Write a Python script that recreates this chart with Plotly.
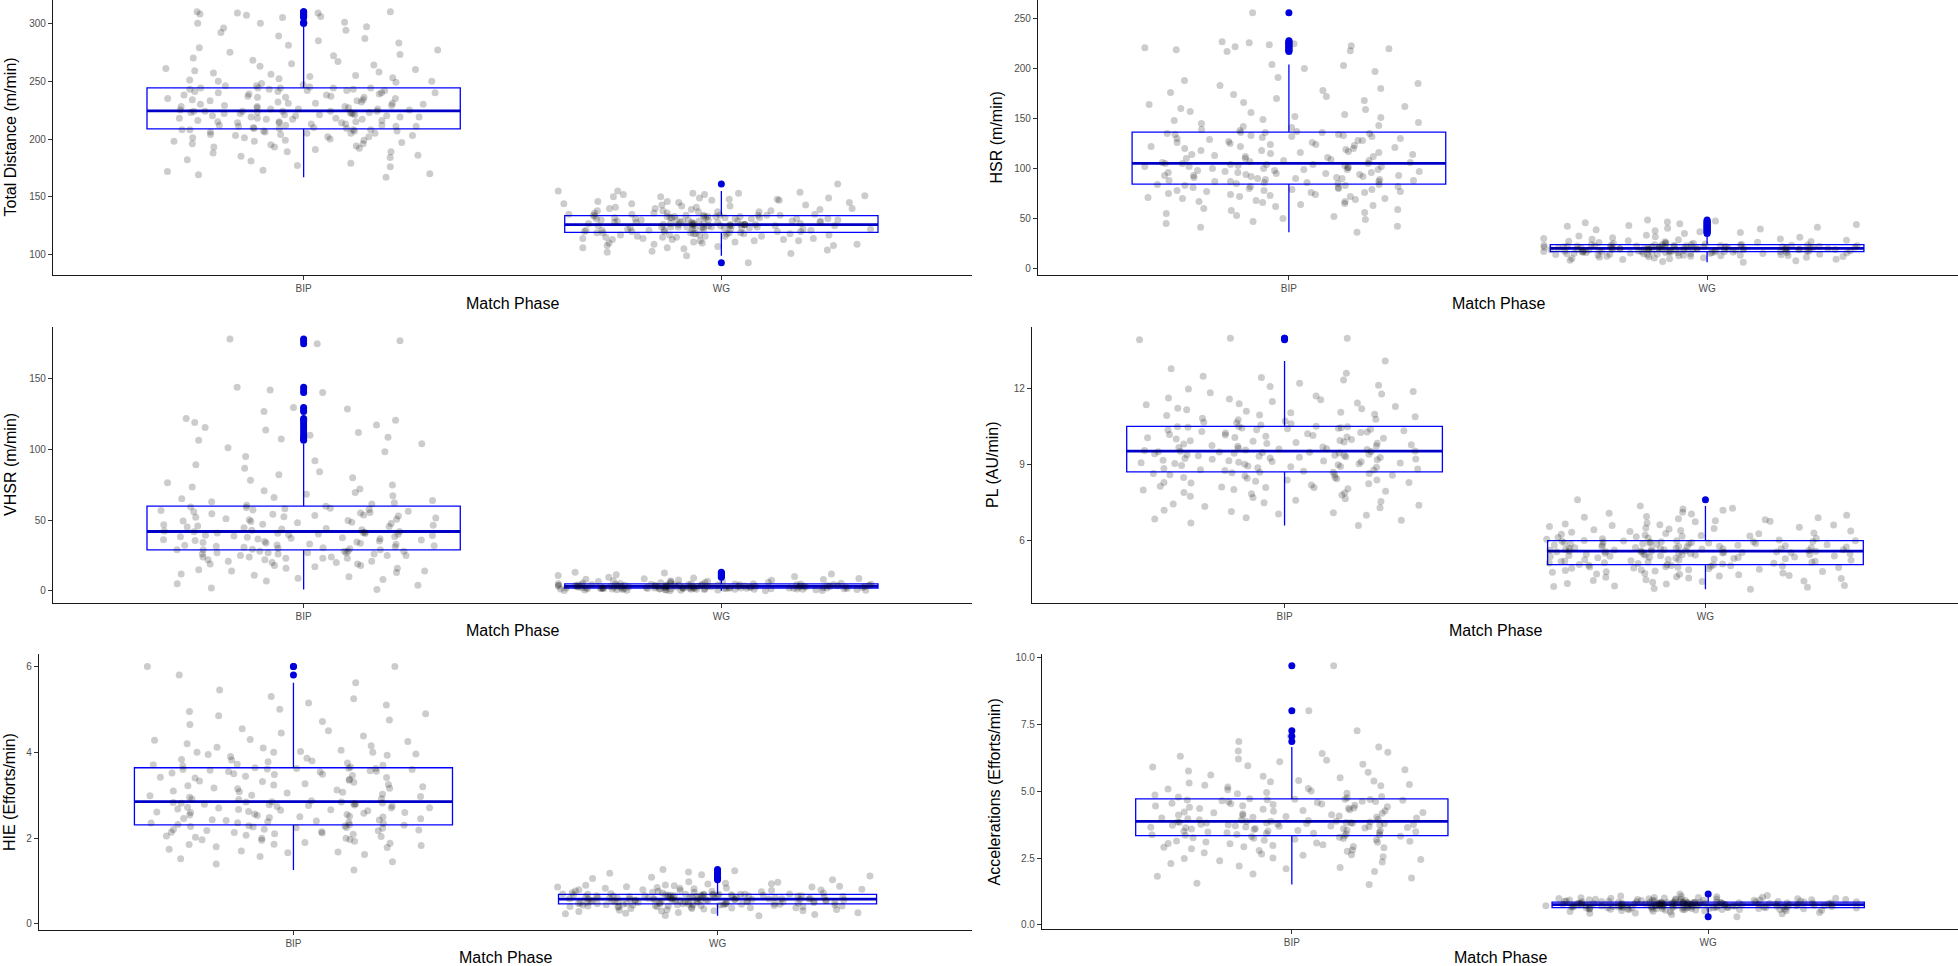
import plotly.graph_objects as go

CATS = ["BIP", "WG"]

# ---------------- data ----------------
TD_BIP = [167, 169, 170, 172, 173, 176, 177, 179, 181, 182, 184, 185, 186, 188, 189, 189, 191, 192, 193, 193,
          194, 195, 196, 196, 197, 198, 198, 199, 199, 200, 201, 201, 202, 202, 203, 203, 204, 204, 205, 205,
          205, 206, 206, 207, 207, 207, 208, 208, 208, 208,
          209, 209, 209, 210, 210, 211, 211, 211, 212, 212, 212, 213, 213, 214, 214, 214, 215, 215, 215, 216,
          216, 217, 217, 217, 218, 218, 218, 219, 219, 219, 220, 220, 220, 221, 221, 221, 222, 222, 222, 222,
          223, 223, 223, 223, 224, 224, 224, 224, 224, 224,
          225, 225, 226, 226, 226, 227, 227, 228, 228, 228, 229, 229, 230, 230, 231, 231, 231, 232, 232, 233,
          233, 234, 234, 235, 235, 236, 236, 236, 237, 237, 238, 238, 239, 239, 240, 240, 240, 241, 241, 242,
          242, 242, 243, 243, 243, 244, 244, 244, 244, 244,
          245, 246, 246, 247, 248, 249, 250, 250, 251, 252, 253, 254, 255, 256, 257, 258, 259, 260, 261, 263,
          264, 265, 267, 268, 270, 272, 273, 275, 277, 279, 281, 283, 285, 287, 289, 292, 294, 296, 297, 300,
          300, 301, 305, 306, 307, 308, 309, 309, 310, 310]
TD_WG = [93, 99, 101, 102, 103, 104, 105, 106, 106, 107, 108, 108, 109, 109, 110, 110, 111, 111, 112, 112,
         112, 113, 113, 113, 114, 114, 114, 115, 115, 115, 116, 116, 116, 116, 117, 117, 117, 117, 118, 118,
         118, 118, 118, 119, 119, 119, 119, 119,
         120, 120, 120, 120, 120, 121, 121, 121, 121, 121, 122, 122, 122, 122, 122, 122, 123, 123, 123, 123,
         123, 123, 124, 124, 124, 124, 124, 124, 124, 125, 125, 125, 125, 125, 125, 125, 125, 126, 126, 126,
         126, 126, 126, 126, 126, 126,
         127, 127, 127, 127, 127, 127, 128, 128, 128, 128, 128, 128, 129, 129, 129, 129, 129, 129, 130, 130,
         130, 130, 130, 130, 131, 131, 131, 131, 131, 131, 132, 132, 132, 132, 132, 132, 133, 133, 133, 133,
         133, 133, 133, 134, 134, 134, 134, 134, 134, 134,
         135, 135, 135, 136, 136, 136, 137, 137, 137, 138, 138, 138, 139, 139, 140, 140, 140, 141, 141, 142,
         142, 143, 143, 144, 144, 145, 145, 146, 146, 147, 147, 148, 148, 149, 149, 150, 150, 151, 152, 152,
         153, 153, 154, 155, 155, 161]

HSR_BIP = [36, 41, 42, 45, 47, 49, 50, 52, 53, 55, 56, 58, 59, 60, 62, 63, 64, 65, 66, 67, 67, 68, 69, 70, 70,
           71, 72, 72, 73, 74, 74, 75, 76, 76, 77, 77, 78, 78, 79, 79, 80, 80, 81, 81, 82, 82, 83, 83, 84, 84,
           85, 85, 86, 86, 87, 87, 87, 88, 88, 89, 89, 90, 90, 90, 91, 91, 92, 92, 93, 93, 93, 94, 94, 95, 95,
           96, 96, 96, 97, 97, 98, 98, 99, 99, 99, 100, 100, 101, 101, 102, 102, 102, 103, 103, 104, 104, 104,
           105, 105, 105,
           106, 106, 107, 108, 108, 109, 110, 110, 111, 112, 112, 113, 114, 114, 115, 116, 116, 117, 118, 118,
           119, 120, 120, 121, 122, 122, 123, 124, 124, 125, 126, 126, 127, 128, 128, 129, 130, 130, 131, 132,
           132, 133, 133, 134, 134, 135, 135, 136, 136, 136,
           137, 138, 139, 141, 142, 143, 145, 146, 148, 149, 151, 152, 154, 156, 157, 159, 160, 162, 164, 166,
           168, 170, 172, 174, 176, 178, 180, 183, 185, 188, 191, 197, 200, 203, 204, 217, 218, 219, 220, 221,
           222, 223, 224, 225, 226, 227, 228, 256]
HSR_WG = [6.1, 6.8, 7.6, 8.1, 8.7, 9.0, 9.6, 9.9, 10.4, 10.6, 11.0, 11.2, 11.6, 11.8, 12.1, 12.2, 12.5, 12.7,
          12.8, 13.1, 13.2, 13.4, 13.5, 13.7, 13.9, 14.0, 14.2, 14.3, 14.5, 14.6, 14.7, 14.9, 15.0, 15.1, 15.3,
          15.4, 15.5, 15.6, 15.7, 15.8, 15.9, 16.0, 16.1, 16.2, 16.3, 16.4, 16.5, 16.5, 16.6, 16.7,
          16.8, 16.9, 17.0, 17.1, 17.1, 17.3, 17.4, 17.4, 17.6, 17.7, 17.8, 17.9, 18.0, 18.0, 18.2, 18.3, 18.3,
          18.5, 18.6, 18.6, 18.8, 18.9, 18.9, 19.0, 19.1, 19.2, 19.3, 19.3, 19.4, 19.5, 19.5, 19.6, 19.7, 19.7,
          19.8, 19.8, 19.9, 19.9, 20.0, 20.0,
          20.1, 20.2, 20.3, 20.4, 20.5, 20.5, 20.7, 20.8, 20.9, 21.0, 21.1, 21.2, 21.3, 21.4, 21.5, 21.6, 21.7,
          21.8, 21.9, 22.0, 22.1, 22.2, 22.3, 22.4, 22.5, 22.6, 22.7, 22.8, 22.9, 23.0, 23.1, 23.2, 23.3, 23.4,
          23.5, 23.6, 23.7,
          23.9, 24.2, 24.4, 24.7, 24.9, 25.2, 25.5, 25.8, 26.1, 26.5, 26.8, 27.2, 27.6, 28.0, 28.5, 29.0, 29.4,
          29.9, 30.5, 31.1, 31.7, 32.4, 33.0, 34.9, 35.8, 36.7, 37.6, 38.5, 39.3, 40.2, 41.1, 42.0, 42.9, 43.8,
          44.7, 45.6, 46.5, 47.4, 48.5]

VHSR_BIP = [1, 2, 4, 5, 7, 8, 9, 10, 11, 12, 13, 14, 14, 15, 16, 16, 17, 18, 18, 19, 19, 20, 20, 21, 21, 22,
            22, 23, 23, 23, 24, 24, 24, 25, 25, 25, 26, 26, 26, 27, 27, 27, 27, 28, 28, 28, 28, 29, 29, 29,
            29.4, 29.8, 30.1, 30.5, 30.8, 31.2, 31.5, 31.9, 32.2, 32.5, 32.9, 33.2, 33.6, 33.9, 34.2, 34.6, 34.9,
            35.3, 35.6, 35.9, 36.2, 36.6, 36.9, 37.2, 37.5, 37.9, 38.2, 38.5, 38.8, 39.1, 39.4, 39.7, 40.0, 40.2,
            40.5, 40.8, 41.0, 41.3, 41.5, 41.8, 42.0,
            42.4, 42.9, 43.3, 43.8, 44.2, 44.6, 45.1, 45.5, 45.9, 46.4, 46.8, 47.2, 47.7, 48.1, 48.5, 49.0, 49.4,
            49.8, 50.3, 50.7, 51.1, 51.6, 52.0, 52.4, 52.9, 53.3, 53.7, 54.2, 54.6, 55.0, 55.5, 55.9, 56.3, 56.8,
            57.2, 57.6, 58.1, 58.5, 58.9, 59.4, 59.9,
            60.6, 61.5, 62.3, 63.1, 64.0, 65.2, 66.1, 67.3, 68.4, 69.6, 70.8, 72.0, 73.4, 74.9, 76.5, 78.2, 80.0,
            82.1, 84.3, 86.7, 89.2, 92.0, 95.1, 98.4, 101.2, 104.0, 106.5, 107.5, 108.6, 110.1, 112.0, 113.8,
            115.6, 117.3, 119.1, 120.8, 122.0, 126.9, 128.6, 129.7, 140.3, 142.1, 144.0, 174.8, 177.0, 178.2]
VHSR_WG = [0.1, 0.15, 0.2, 0.3, 0.35, 0.4, 0.5, 0.55, 0.6, 0.65, 0.7, 0.8, 0.85, 0.9, 0.95, 1.0, 1.05, 1.1,
           1.1, 1.15, 1.2, 1.25, 1.3, 1.3, 1.35, 1.4, 1.4, 1.45, 1.5, 1.5, 1.55, 1.55, 1.6, 1.6, 1.65, 1.65, 1.7,
           1.7, 1.75, 1.75, 1.8, 1.8, 1.8, 1.85, 1.85, 1.9, 1.9,
           1.95, 2.0, 2.0, 2.05, 2.1, 2.1, 2.15, 2.2, 2.2, 2.25, 2.3, 2.3, 2.35, 2.4, 2.4, 2.45, 2.5, 2.5, 2.55,
           2.6, 2.6, 2.65, 2.7, 2.7, 2.75, 2.8, 2.8, 2.85, 2.9, 2.9, 2.95, 3.0, 3.0, 3.05, 3.1, 3.1, 3.15, 3.2,
           3.2,
           3.25, 3.3, 3.35, 3.4, 3.45, 3.5, 3.55, 3.6, 3.65, 3.7, 3.75, 3.8, 3.85, 3.9, 3.95, 4.0, 4.05, 4.1,
           4.15, 4.2, 4.25, 4.3, 4.35, 4.4, 4.45, 4.5, 4.55, 4.6, 4.65, 4.7, 4.75, 4.8, 4.85, 4.9,
           5.0, 5.1, 5.2, 5.3, 5.45, 5.6, 5.75, 5.9, 6.05, 6.2, 6.4, 6.6, 6.8, 7.0, 7.2, 7.45, 7.7, 7.95, 8.2,
           8.5, 8.8, 9.1, 9.6, 10.2, 10.8, 11.4, 12.0, 12.6, 13.2]

PL_BIP = [6.6, 6.7, 6.8, 6.85, 6.9, 7.0, 7.05, 7.1, 7.2, 7.3, 7.35, 7.4, 7.5, 7.55, 7.6, 7.7, 7.75, 7.8, 7.85,
          7.9, 7.95, 8.0, 8.05, 8.1, 8.1, 8.15, 8.2, 8.25, 8.3, 8.3, 8.35, 8.4, 8.4, 8.45, 8.5, 8.5, 8.55, 8.6,
          8.6, 8.65, 8.65, 8.7, 8.7,
          8.74, 8.77, 8.8, 8.83, 8.85, 8.88, 8.9, 8.93, 8.95, 8.97, 9.0, 9.02, 9.04, 9.07, 9.08, 9.1, 9.12,
          9.15, 9.16, 9.18, 9.2, 9.23, 9.25, 9.27, 9.3, 9.32, 9.34, 9.37, 9.38, 9.4, 9.42, 9.45, 9.46, 9.48,
          9.5, 9.51, 9.53, 9.54,
          9.56, 9.58, 9.6, 9.63, 9.65, 9.68, 9.7, 9.73, 9.76, 9.79, 9.82, 9.85, 9.88, 9.9, 9.93, 9.96, 10.0,
          10.02, 10.05, 10.08, 10.1, 10.13, 10.16, 10.2, 10.23, 10.26, 10.3, 10.32, 10.35, 10.38, 10.4, 10.42,
          10.44, 10.46, 10.48, 10.5, 10.51, 10.52,
          10.57, 10.62, 10.68, 10.73, 10.78, 10.84, 10.9, 10.95, 11.0, 11.06, 11.12, 11.18, 11.24, 11.3, 11.37,
          11.44, 11.5, 11.57, 11.64, 11.72, 11.8, 11.9, 12.0, 12.1, 12.22, 12.35, 12.5, 12.62, 12.8, 13.1,
          13.95, 14.0, 14.0,
          7.15, 7.65, 8.02, 8.28, 8.47, 8.58, 8.68, 7.45, 7.88, 8.12, 8.79, 8.92, 9.05, 9.13, 9.22, 9.29, 9.36,
          9.44, 9.49, 9.52, 9.62, 9.74, 9.84, 9.95, 10.07, 10.18, 10.28, 10.37, 10.45, 10.5, 10.66, 10.8,
          10.97, 11.08, 11.22, 11.41, 11.6, 11.85, 12.15, 12.45]
PL_WG = [4.07, 4.1, 4.15, 4.2, 4.22, 4.28, 4.3, 4.35, 4.4, 4.42, 4.45, 4.5, 4.52, 4.55, 4.6, 4.62, 4.65, 4.68,
         4.7, 4.72, 4.75, 4.78, 4.8, 4.82, 4.85, 4.87, 4.9, 4.91, 4.93, 4.95, 4.96, 4.98, 5.0, 5.01, 5.02,
         5.04, 5.05,
         5.07, 5.09, 5.1, 5.12, 5.14, 5.15, 5.17, 5.19, 5.2, 5.22, 5.24, 5.25, 5.27, 5.29, 5.3, 5.32, 5.34,
         5.35, 5.37, 5.38, 5.4, 5.41, 5.43, 5.44, 5.45, 5.47, 5.48, 5.49, 5.5, 5.51, 5.52, 5.53, 5.54, 5.55,
         5.56, 5.57, 5.58, 5.58,
         5.59, 5.6, 5.61, 5.62, 5.63, 5.64, 5.65, 5.66, 5.67, 5.68, 5.69, 5.7, 5.71, 5.72, 5.73, 5.75, 5.76,
         5.77, 5.78, 5.8, 5.81, 5.82, 5.83, 5.85, 5.86, 5.87, 5.88, 5.9, 5.91, 5.92, 5.93, 5.94, 5.95, 5.96,
         5.97, 5.98, 5.99, 6.0,
         6.02, 6.05, 6.08, 6.1, 6.12, 6.15, 6.18, 6.2, 6.22, 6.25, 6.28, 6.3, 6.33, 6.36, 6.4, 6.43, 6.46,
         6.5, 6.53, 6.56, 6.6, 6.63, 6.66, 6.7, 6.74, 6.78, 6.82, 6.86, 6.9, 6.95, 7.0, 7.05, 7.12, 7.2,
         7.28, 7.37, 7.62,
         4.18, 4.38, 4.57, 4.67, 4.77, 4.84, 4.89, 4.94, 4.99, 5.03, 5.11, 5.18, 5.23, 5.28, 5.33, 5.39, 5.42,
         5.46, 5.5, 5.55, 5.6, 5.64, 5.68, 5.72, 5.77, 5.82, 5.87, 5.91, 5.95, 5.99, 6.07, 6.17, 6.27, 6.38,
         6.48, 6.62, 6.76, 6.92, 7.08, 7.25]

HIE_BIP = [1.26, 1.4, 1.52, 1.57, 1.62, 1.66, 1.7, 1.74, 1.78, 1.8, 1.83, 1.86, 1.88, 1.9, 1.93, 1.95, 1.97,
           2.0, 2.0, 2.02, 2.05, 2.07, 2.09, 2.1, 2.12, 2.14, 2.15, 2.17, 2.18, 2.2, 2.21, 2.23, 2.25, 2.26,
           2.28, 2.3, 2.31,
           2.32, 2.34, 2.35, 2.37, 2.38, 2.4, 2.41, 2.43, 2.45, 2.46, 2.48, 2.5, 2.51, 2.53, 2.55, 2.56, 2.58,
           2.6, 2.61, 2.62, 2.64, 2.65, 2.67, 2.68, 2.7, 2.71, 2.72, 2.74, 2.75, 2.76, 2.78, 2.79, 2.8, 2.81,
           2.82, 2.83, 2.84, 2.85,
           2.87, 2.9, 2.92, 2.95, 2.97, 3.0, 3.02, 3.05, 3.07, 3.1, 3.12, 3.15, 3.17, 3.2, 3.22, 3.25, 3.27,
           3.3, 3.32, 3.35, 3.37, 3.4, 3.42, 3.44, 3.46, 3.48, 3.5, 3.52, 3.54, 3.55, 3.57, 3.58, 3.6, 3.6,
           3.61, 3.62, 3.63, 3.64,
           3.66, 3.68, 3.7, 3.72, 3.75, 3.78, 3.8, 3.83, 3.86, 3.9, 3.93, 3.96, 4.0, 4.0, 4.02, 4.05, 4.1,
           4.15, 4.2, 4.25, 4.3, 4.38, 4.45, 4.55, 4.65, 4.75, 4.85, 4.9, 5.0, 5.1, 5.15, 5.3, 5.45, 5.62,
           5.8, 6.0, 6.0,
           1.45, 1.68, 1.85, 1.96, 2.04, 2.13, 2.19, 2.24, 2.27, 2.29, 2.36, 2.42, 2.49, 2.54, 2.6, 2.66, 2.7,
           2.77, 2.8, 2.84, 2.91, 2.99, 3.08, 3.16, 3.24, 3.33, 3.41, 3.49, 3.56, 3.62, 3.71, 3.82, 3.95, 4.0,
           4.12, 4.28, 4.5, 4.72, 4.95, 5.25]
HIE_WG = [0.19, 0.2, 0.22, 0.24, 0.26, 0.27, 0.29, 0.3, 0.31, 0.32, 0.33, 0.34, 0.35, 0.36, 0.37, 0.38, 0.38,
          0.39, 0.4, 0.4, 0.41, 0.41, 0.42, 0.42, 0.43, 0.43, 0.44, 0.44, 0.44, 0.45, 0.45, 0.45, 0.46, 0.46,
          0.46, 0.47, 0.47,
          0.47, 0.48, 0.48, 0.48, 0.49, 0.49, 0.49, 0.5, 0.5, 0.5, 0.51, 0.51, 0.51, 0.52, 0.52, 0.52, 0.53,
          0.53, 0.53, 0.54, 0.54, 0.54, 0.55, 0.55, 0.55, 0.55, 0.56, 0.56, 0.56, 0.56, 0.57, 0.57, 0.57,
          0.57, 0.58, 0.58, 0.58, 0.58,
          0.59, 0.59, 0.59, 0.6, 0.6, 0.6, 0.61, 0.61, 0.61, 0.62, 0.62, 0.62, 0.63, 0.63, 0.63, 0.64, 0.64,
          0.64, 0.65, 0.65, 0.65, 0.66, 0.66, 0.66, 0.67, 0.67, 0.67, 0.67, 0.68, 0.68, 0.68, 0.68, 0.69,
          0.69, 0.69, 0.69, 0.69, 0.69,
          0.7, 0.71, 0.72, 0.73, 0.74, 0.75, 0.76, 0.77, 0.78, 0.79, 0.8, 0.81, 0.82, 0.83, 0.84, 0.85, 0.86,
          0.87, 0.88, 0.9, 0.91, 0.93, 0.95, 0.97, 0.985, 1.03, 1.06, 1.09, 1.12, 1.15, 1.18, 1.21, 1.24, 1.27,
          0.25, 0.31, 0.36, 0.39, 0.42, 0.44, 0.45, 0.46, 0.47, 0.43, 0.48, 0.5, 0.51, 0.53, 0.54, 0.55, 0.56,
          0.57, 0.58, 0.52, 0.59, 0.61, 0.62, 0.64, 0.65, 0.66, 0.67, 0.68, 0.69, 0.63, 0.7, 0.72, 0.74, 0.76,
          0.78, 0.8, 0.83, 0.86, 0.89, 0.94]

ACC_BIP = [1.51, 1.56, 1.75, 1.9, 2.0, 2.1, 2.2, 2.3, 2.35, 2.4, 2.48, 2.5, 2.55, 2.6, 2.65, 2.7, 2.75, 2.8,
           2.85, 2.88, 2.9, 2.93, 2.97, 3.0, 3.03, 3.06, 3.09, 3.1, 3.13, 3.16, 3.18, 3.2, 3.23, 3.26, 3.28,
           3.31, 3.33,
           3.35, 3.37, 3.38, 3.4, 3.42, 3.43, 3.45, 3.47, 3.48, 3.5, 3.52, 3.53, 3.55, 3.57, 3.58, 3.6, 3.62,
           3.63, 3.65, 3.66, 3.68, 3.7, 3.71, 3.72, 3.74, 3.75, 3.76, 3.78, 3.79, 3.8, 3.81, 3.82, 3.83, 3.84,
           3.85, 3.86, 3.87, 3.87,
           3.9, 3.92, 3.95, 3.97, 4.0, 4.0, 4.02, 4.05, 4.07, 4.1, 4.12, 4.15, 4.17, 4.2, 4.22, 4.25, 4.28,
           4.3, 4.32, 4.35, 4.37, 4.4, 4.42, 4.45, 4.47, 4.5, 4.52, 4.55, 4.57, 4.6, 4.62, 4.64, 4.66, 4.68,
           4.69, 4.7, 4.7, 4.71,
           4.75, 4.8, 4.85, 4.9, 4.95, 5.0, 5.05, 5.1, 5.15, 5.2, 5.25, 5.3, 5.35, 5.4, 5.5, 5.6, 5.7, 5.8,
           5.9, 6.0, 6.1, 6.2, 6.3, 6.4, 6.5, 6.65, 6.85, 7.05, 7.25, 8.0, 9.68,
           1.82, 2.15, 2.45, 2.62, 2.78, 2.92, 3.04, 3.14, 3.24, 3.3, 3.36, 3.44, 3.51, 3.59, 3.64, 3.69, 3.73,
           3.77, 3.81, 3.85, 3.93, 4.03, 4.11, 4.19, 4.27, 4.36, 4.44, 4.53, 4.61, 4.67, 4.78, 4.92, 5.08, 5.22,
           5.38, 5.55, 5.75, 5.95, 6.15, 6.45]
ACC_WG = [0.31, 0.39, 0.42, 0.45, 0.47, 0.49, 0.5, 0.52, 0.53, 0.54, 0.55, 0.56, 0.57, 0.57, 0.58, 0.58, 0.59,
          0.59, 0.6, 0.6, 0.61, 0.61, 0.61, 0.62, 0.62, 0.62, 0.63, 0.63, 0.63, 0.64, 0.64, 0.64, 0.65, 0.65,
          0.65,
          0.66, 0.66, 0.66, 0.67, 0.67, 0.67, 0.68, 0.68, 0.68, 0.69, 0.69, 0.69, 0.7, 0.7, 0.7, 0.71, 0.71,
          0.71, 0.72, 0.72, 0.72, 0.73, 0.73, 0.73, 0.74, 0.74, 0.74, 0.75, 0.75, 0.75, 0.75, 0.76, 0.76,
          0.76, 0.76,
          0.77, 0.77, 0.77, 0.78, 0.78, 0.78, 0.78, 0.79, 0.79, 0.79, 0.8, 0.8, 0.8, 0.8, 0.81, 0.81, 0.81,
          0.82, 0.82, 0.82, 0.82, 0.83, 0.83, 0.83, 0.83, 0.84, 0.84, 0.84, 0.84, 0.85, 0.85, 0.85, 0.85,
          0.85, 0.85,
          0.86, 0.86, 0.87, 0.87, 0.88, 0.88, 0.89, 0.89, 0.9, 0.9, 0.91, 0.91, 0.92, 0.92, 0.93, 0.93, 0.94,
          0.94, 0.95, 0.95, 0.96, 0.97, 0.97, 0.98, 0.99, 1.0, 1.01, 1.02, 1.03, 1.04, 1.05, 1.07, 1.08, 1.1,
          1.16,
          0.44, 0.51, 0.55, 0.58, 0.6, 0.62, 0.63, 0.64, 0.65, 0.61, 0.66, 0.67, 0.69, 0.7, 0.71, 0.72, 0.73,
          0.74, 0.75, 0.76, 0.77, 0.78, 0.79, 0.8, 0.81, 0.82, 0.83, 0.84, 0.85, 0.8, 0.86, 0.88, 0.9, 0.92,
          0.94, 0.96, 0.98, 1.0, 1.03, 0.87]

# box statistics: [BIP, WG]
TD_Q1, TD_MED, TD_Q3, TD_LO, TD_HI = [208.8, 119.3], [224.4, 125.9], [244.2, 133.7], [167, 99], [297, 155]
HSR_Q1, HSR_MED, HSR_Q3, HSR_LO, HSR_HI = [84.3, 16.7], [105.0, 20.0], [136.3, 23.7], [36, 6.1], [204, 33.0]
VHSR_Q1, VHSR_MED, VHSR_Q3, VHSR_LO, VHSR_HI = [29.0, 1.9], [42.0, 3.2], [59.9, 4.9], [1, 0.1], [104, 9.1]
PL_Q1, PL_MED, PL_Q3, PL_LO, PL_HI = [8.72, 5.05], [9.54, 5.58], [10.52, 6.0], [6.6, 4.07], [13.1, 7.37]
HIE_Q1, HIE_MED, HIE_Q3, HIE_LO, HIE_HI = [2.31, 0.47], [2.85, 0.58], [3.64, 0.69], [1.26, 0.19], [5.62, 0.985]
ACC_Q1, ACC_MED, ACC_Q3, ACC_LO, ACC_HI = [3.34, 0.65], [3.87, 0.76], [4.71, 0.85], [1.51, 0.39], [6.65, 1.1]

Y_TITLES = ["Total Distance (m/min)", "HSR (m/min)", "VHSR (m/min)", "PL (AU/min)",
            "HIE (Efforts/min)", "Accelerations (Efforts/min)"]
X_TITLE = "Match Phase"
TD_TICKS = [100, 150, 200, 250, 300]
HSR_TICKS = [0, 50, 100, 150, 200, 250]
VHSR_TICKS = [0, 50, 100, 150]
PL_TICKS = [6, 9, 12]
HIE_TICKS = [0, 2, 4, 6]
ACC_TICKS = [0, 2.5, 5, 7.5, 10]

# ---------------- layout / style ----------------
W, H = 1958, 966
FONT = "Liberation Sans, Arial, sans-serif"
BOX_BLUE = "#0000FF"
MED_BLUE = "#0000C8"
OUT_BLUE = "#0000DD"
# the library's jitter is applied per trace, in small groups of neighbouring values
CHUNK_SIZES = [10, 12, 11, 13, 9, 12, 10, 11]
POINT_POS = [0.0, 0.1, -0.08, 0.05, -0.12, 0.07, -0.04, 0.12, -0.1]

panels = [
    dict(bip=TD_BIP, wg=TD_WG, q1=TD_Q1, med=TD_MED, q3=TD_Q3, lo=TD_LO, hi=TD_HI, ticks=TD_TICKS, fmt="",
         xpx=(53, 972), ypx=(0, 275), yr=(82.4, 320.2), ytx=10, xty=303),
    dict(bip=HSR_BIP, wg=HSR_WG, q1=HSR_Q1, med=HSR_MED, q3=HSR_Q3, lo=HSR_LO, hi=HSR_HI, ticks=HSR_TICKS, fmt="",
         xpx=(1038, 1958), ypx=(0, 275), yr=(-6.7, 268.7), ytx=996, xty=303),
    dict(bip=VHSR_BIP, wg=VHSR_WG, q1=VHSR_Q1, med=VHSR_MED, q3=VHSR_Q3, lo=VHSR_LO, hi=VHSR_HI, ticks=VHSR_TICKS,
         fmt="", xpx=(53, 972), ypx=(327, 603), yr=(-8.6, 186.7), ytx=10, xty=630),
    dict(bip=PL_BIP, wg=PL_WG, q1=PL_Q1, med=PL_MED, q3=PL_Q3, lo=PL_LO, hi=PL_HI, ticks=PL_TICKS, fmt="",
         xpx=(1032, 1958), ypx=(327, 603), yr=(3.53, 14.45), ytx=992, xty=630),
    dict(bip=HIE_BIP, wg=HIE_WG, q1=HIE_Q1, med=HIE_MED, q3=HIE_Q3, lo=HIE_LO, hi=HIE_HI, ticks=HIE_TICKS, fmt="",
         xpx=(39, 972), ypx=(654, 930), yr=(-0.14, 6.29), ytx=9, xty=957),
    dict(bip=ACC_BIP, wg=ACC_WG, q1=ACC_Q1, med=ACC_MED, q3=ACC_Q3, lo=ACC_LO, hi=ACC_HI, ticks=ACC_TICKS,
         fmt=".1f", xpx=(1042, 1958), ypx=(654, 929), yr=(-0.15, 10.12), ytx=994, xty=957),
]


def split_sorted(vals):
    s = sorted(vals)
    out, i, k = [], 0, 0
    while i < len(s):
        n = CHUNK_SIZES[k % len(CHUNK_SIZES)]
        out.append(s[i:i + n])
        i += n
        k += 1
    return out


fig = go.Figure()
annotations = []
axis_common = dict(showline=True, linecolor="#1a1a1a", linewidth=1.3, ticks="outside", ticklen=4,
                   tickwidth=1, tickcolor="#333333", showgrid=False, zeroline=False, automargin=False,
                   tickfont=dict(family=FONT, size=10, color="#4d4d4d"), fixedrange=True)

for i, p in enumerate(panels):
    sfx = "" if i == 0 else str(i + 1)
    xa, ya = "x" + sfx, "y" + sfx
    # box outline
    fig.add_trace(go.Box(x=CATS, q1=p["q1"], median=p["med"], q3=p["q3"], lowerfence=p["lo"],
                         upperfence=p["hi"], width=0.75, whiskerwidth=0, boxpoints=False,
                         line=dict(color=BOX_BLUE, width=1.3), fillcolor="rgba(0,0,0,0)",
                         xaxis=xa, yaxis=ya, hoverinfo="skip", showlegend=False))
    # thick median
    fig.add_trace(go.Box(x=CATS, q1=p["med"], median=p["med"], q3=p["med"], lowerfence=p["med"],
                         upperfence=p["med"], width=0.75, whiskerwidth=0, boxpoints=False,
                         line=dict(color=MED_BLUE, width=2.8), fillcolor="rgba(0,0,0,0)",
                         xaxis=xa, yaxis=ya, hoverinfo="skip", showlegend=False))
    # jittered raw points
    bc, wc = split_sorted(p["bip"]), split_sorted(p["wg"])
    for j in range(max(len(bc), len(wc))):
        b = bc[j] if j < len(bc) else []
        w = wc[j] if j < len(wc) else []
        pp = POINT_POS[j % len(POINT_POS)]
        fig.add_trace(go.Box(x=[CATS[0]] * len(b) + [CATS[1]] * len(w), y=b + w, boxpoints="all",
                             jitter=1 - abs(pp), pointpos=pp, width=0.8,
                             line=dict(color="rgba(0,0,0,0)", width=0), fillcolor="rgba(0,0,0,0)",
                             marker=dict(color="rgba(0,0,0,0.2)", size=7, line=dict(width=0)),
                             xaxis=xa, yaxis=ya, hoverinfo="skip", showlegend=False))
    # outliers (values beyond the whiskers)
    ox, oy = [], []
    for k, vals in enumerate([p["bip"], p["wg"]]):
        for v in vals:
            if v > p["hi"][k] or v < p["lo"][k]:
                ox.append(CATS[k])
                oy.append(v)
    fig.add_trace(go.Scatter(x=ox, y=oy, mode="markers",
                             marker=dict(color=OUT_BLUE, size=7, line=dict(width=0)),
                             xaxis=xa, yaxis=ya, hoverinfo="skip", showlegend=False))

    x0, x1 = p["xpx"]
    y0, y1 = p["ypx"]
    fig.layout["xaxis" + sfx] = dict(axis_common, domain=[x0 / W, x1 / W], anchor=ya, type="category",
                                     categoryorder="array", categoryarray=CATS, range=[-0.6, 1.6])
    yax = dict(axis_common, domain=[1 - y1 / H, 1 - y0 / H], anchor=xa, range=list(p["yr"]),
               tickmode="array", tickvals=p["ticks"])
    if p["fmt"]:
        yax["tickformat"] = p["fmt"]
    fig.layout["yaxis" + sfx] = yax

    annotations.append(dict(text=X_TITLE, x=(x0 + x1) / 2 / W, y=1 - p["xty"] / H, xref="paper", yref="paper",
                            xanchor="center", yanchor="middle", showarrow=False,
                            font=dict(family=FONT, size=16, color="black")))
    annotations.append(dict(text=Y_TITLES[i], x=p["ytx"] / W, y=1 - (y0 + y1) / 2 / H, xref="paper",
                            yref="paper", xanchor="center", yanchor="middle", textangle=-90, showarrow=False,
                            font=dict(family=FONT, size=16, color="black")))

fig.update_layout(width=W, height=H, margin=dict(l=0, r=0, t=0, b=0, pad=0), template=None,
                  plot_bgcolor="white", paper_bgcolor="white", boxmode="overlay", showlegend=False,
                  annotations=annotations, font=dict(family=FONT))

fig.write_html("out.html", config={"displayModeBar": False},
               post_script="document.body.style.margin='0px';document.body.style.overflow='hidden';")
